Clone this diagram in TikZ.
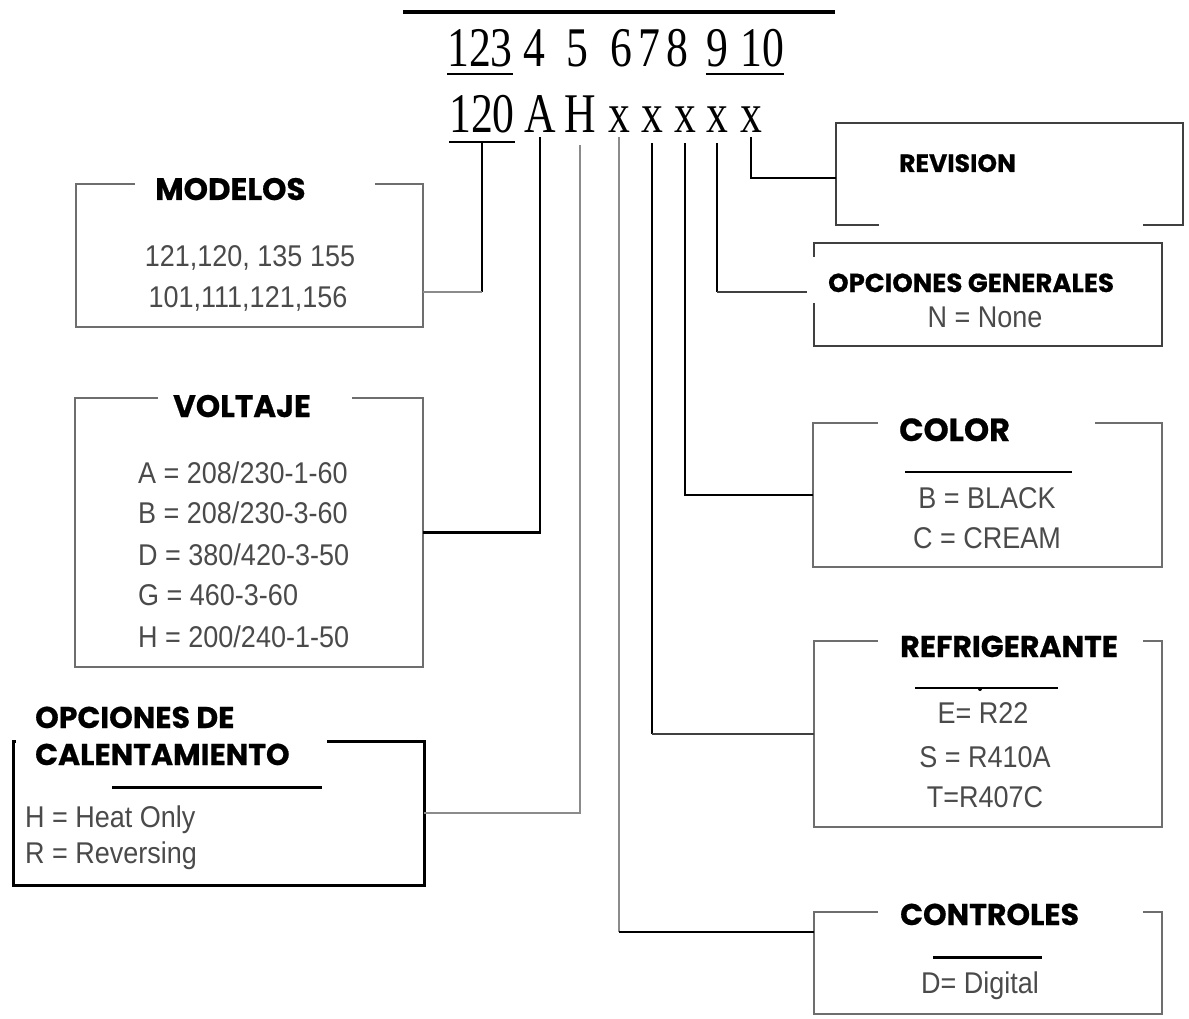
\documentclass[tikz,border=0pt]{standalone}
\usepackage{fontspec}
\newfontfamily\codefont[FakeStretch=0.78]{Liberation Serif}
\newfontfamily\valfont[FakeStretch=0.9]{Liberation Sans}
\newfontfamily\titfont[FakeBold=0.6]{Poppins}
\definecolor{boxgray}{HTML}{6E6E6E}
\definecolor{valgray}{HTML}{4A4A4A}
\definecolor{medgray}{HTML}{404040}
\tikzset{
  boxn/.style={draw=none, inner sep=0pt, outer sep=0pt, anchor=north west},
  boxline/.style={draw=boxgray, line width=1.5pt},
  heavybox/.style={draw=black, line width=3pt},
  ttl/.style={font=\titfont\bfseries\fontsize{#1}{#1}\selectfont, inner sep=0pt, anchor=base west},
  val/.style={font=\valfont\fontsize{30}{36}\selectfont, text=valgray, inner sep=0pt, anchor=base},
  valw/.style={val, anchor=base west},
  code/.style={font=\codefont\fontsize{56}{60}\selectfont, inner sep=0pt, anchor=base},
  thk/.style={draw=black, line width=2.5pt},
  thn/.style={draw=boxgray!80, line width=1.5pt},
  med/.style={draw=medgray, line width=2pt},
}
\begin{document}
\begin{tikzpicture}[x=1pt,y=-1pt]
\useasboundingbox (0,0) rectangle (1189,1019);

% top rule
\coordinate (tl) at (403,12);
\coordinate (tr) at (835,12);
\draw[draw=black, line width=4pt] (tl) -- (tr);

% row 1: positions
\node[code] (c123) at (480,67) {123};
\node[code] (c4) at (534,67) {4};
\node[code] (c5) at (577,67) {5};
\node[code] (c6) at (621,67) {6};
\node[code] (c7) at (649,67) {7};
\node[code] (c8) at (677,67) {8};
\node[code] (c9) at (717,67) {9};
\node[code] (c10) at (762,67) {10};
\draw[thk] ([yshift=-7pt]c123.base west) -- ([yshift=-7pt]c123.base east);
\draw[thk] ([yshift=-7pt]c9.base west) -- ([yshift=-7pt]c10.base east);

% row 2: code
\node[code] (c120) at (482,133) {120};
\node[code] (cA) at (540,133) {A};
\node[code] (cH) at (580,133) {H};
\node[code] (cx1) at (619,133) {x};
\node[code] (cx2) at (652,133) {x};
\node[code] (cx3) at (685,133) {x};
\node[code] (cx4) at (717,133) {x};
\node[code] (cx5) at (751,133) {x};
\draw[thk] ([yshift=-9pt]c120.base west) -- ([yshift=-9pt]c120.base east);

% ---------- boxes ----------
% MODELOS
\node[boxn, minimum width=347pt, minimum height=143pt] (modelos) at (76,184) {};
\draw[boxline] ([xshift=59pt]modelos.north west) -- (modelos.north west) -- (modelos.south west) -- (modelos.south east) -- (modelos.north east) -- ([xshift=-48pt]modelos.north east);
\node[ttl=31] (tmod) at (155,200) {MODELOS};
\node[val] (vm1) at (250,266) {121,120, 135 155};
\node[val] (vm2) at (248,307) {101,111,121,156};

% VOLTAJE
\node[boxn, minimum width=348pt, minimum height=269pt] (volt) at (75,398) {};
\draw[boxline] ([xshift=83pt]volt.north west) -- (volt.north west) -- (volt.south west) -- (volt.south east) -- (volt.north east) -- ([xshift=-71pt]volt.north east);
\node[ttl=31] (tvolt) at (173,417) {VOLTAJE};
\node[valw] (vv1) at (138,483) {A = 208/230-1-60};
\node[valw] (vv2) at (138,523) {B = 208/230-3-60};
\node[valw] (vv3) at (138,565) {D = 380/420-3-50};
\node[valw] (vv4) at (138,605) {G = 460-3-60};
\node[valw] (vv5) at (138,647) {H = 200/240-1-50};

% CALENTAMIENTO
\node[boxn, minimum width=411pt, minimum height=144pt] (calent) at (13,741) {};
\draw[heavybox] ([xshift=3pt]calent.north west) -- (calent.north west) -- (calent.south west) -- (calent.south east) -- (calent.north east) -- ([xshift=-97pt]calent.north east);
\node[ttl=30] (tcal1) at (35,728) {OPCIONES DE};
\node[ttl=30] (tcal2) at (35,765) {CALENTAMIENTO};
\coordinate (cu1) at (112,787);
\coordinate (cu2) at (322,787);
\draw[draw=black, line width=3pt] (cu1) -- (cu2);
\node[valw] (vc1) at (25,827) {H = Heat Only};
\node[valw] (vc2) at (25,863) {R = Reversing};

% REVISION
\node[boxn, minimum width=347pt, minimum height=102pt] (rev) at (836,123) {};
\draw[boxline, draw=medgray] ([xshift=43pt]rev.south west) -- (rev.south west) -- (rev.north west) -- (rev.north east) -- (rev.south east) -- ([xshift=-40pt]rev.south east);
\node[ttl=25] (trev) at (899,172) {REVISION};

% OPCIONES GENERALES
\node[boxn, minimum width=348pt, minimum height=103pt] (opg) at (814,243) {};
\draw[boxline, draw=medgray] (opg.north west) rectangle (opg.south east);
\node[ttl=26, fill=white, inner xsep=21pt, text height=35pt, text depth=11pt] (topg) at (807,292) {OPCIONES GENERALES};
\node[val] (vo1) at (985,327) {N = None};

% COLOR
\node[boxn, minimum width=349pt, minimum height=144pt] (color) at (813,423) {};
\draw[boxline] ([xshift=65pt]color.north west) -- (color.north west) -- (color.south west) -- (color.south east) -- (color.north east) -- ([xshift=-67pt]color.north east);
\node[ttl=32] (tcol) at (899,441) {COLOR};
\coordinate (lc1) at (905,472);
\coordinate (lc2) at (1072,472);
\draw[draw=black, line width=1.5pt] (lc1) -- (lc2);
\node[val] (vcol1) at (987,508) {B = BLACK};
\node[val] (vcol2) at (987,548) {C = CREAM};

% REFRIGERANTE
\node[boxn, minimum width=348pt, minimum height=186pt] (refrig) at (814,641) {};
\draw[boxline] ([xshift=64pt]refrig.north west) -- (refrig.north west) -- (refrig.south west) -- (refrig.south east) -- (refrig.north east) -- ([xshift=-19pt]refrig.north east);
\node[ttl=30] (tref) at (900,657) {REFRIGERANTE};
\coordinate (lr1) at (915,688);
\coordinate (lr2) at (1058,688);
\draw[draw=black, line width=1.5pt] (lr1) -- (lr2);
\fill[black] (980,689) circle (2pt);
\node[val] (vr1) at (983,723) {E= R22};
\node[val] (vr2) at (985,767) {S = R410A};
\node[val] (vr3) at (985,807) {T=R407C};

% CONTROLES
\node[boxn, minimum width=348pt, minimum height=102pt] (ctrl) at (814,912) {};
\draw[boxline] ([xshift=64pt]ctrl.north west) -- (ctrl.north west) -- (ctrl.south west) -- (ctrl.south east) -- (ctrl.north east) -- ([xshift=-19pt]ctrl.north east);
\node[ttl=30] (tctrl) at (900,925) {CONTROLES};
\coordinate (lt1) at (933,957);
\coordinate (lt2) at (1042,957);
\draw[draw=black, line width=3pt] (lt1) -- (lt2);
\node[val] (vt1) at (980,993) {D= Digital};

% ---------- connectors ----------
\coordinate (k120) at (482,292);
\draw[thk] ([yshift=-9pt]c120.base) -- (k120);
\draw[thn] (k120) -- (k120 -| modelos.east);

\draw[thk] ([yshift=-4pt]cA.base) |- (volt.east);

\draw[thn] ([yshift=-12pt]cH.base) |- (calent.east);

\coordinate (k1) at (cx1.base |- 0,932);
\draw[thn] ([yshift=-4pt]cx1.base) -- (k1);
\draw[thk] (k1) -- (k1 -| ctrl.west);

\coordinate (k2) at (cx2.base |- refrig.west);
\draw[thk] ([yshift=-10pt]cx2.base) -- (k2);
\draw[med] (k2) -- (refrig.west);

\draw[thk] ([yshift=-10pt]cx3.base) |- (color.west);

\coordinate (k4) at (cx4.base |- topg.base west);
\draw[thk] ([yshift=-10pt]cx4.base) -- (k4);
\draw[med] (k4) -- (topg.base west);

\draw[thk] ([yshift=-4pt]cx5.base) |- ([yshift=-4pt]rev.west);
\end{tikzpicture}
\end{document}
